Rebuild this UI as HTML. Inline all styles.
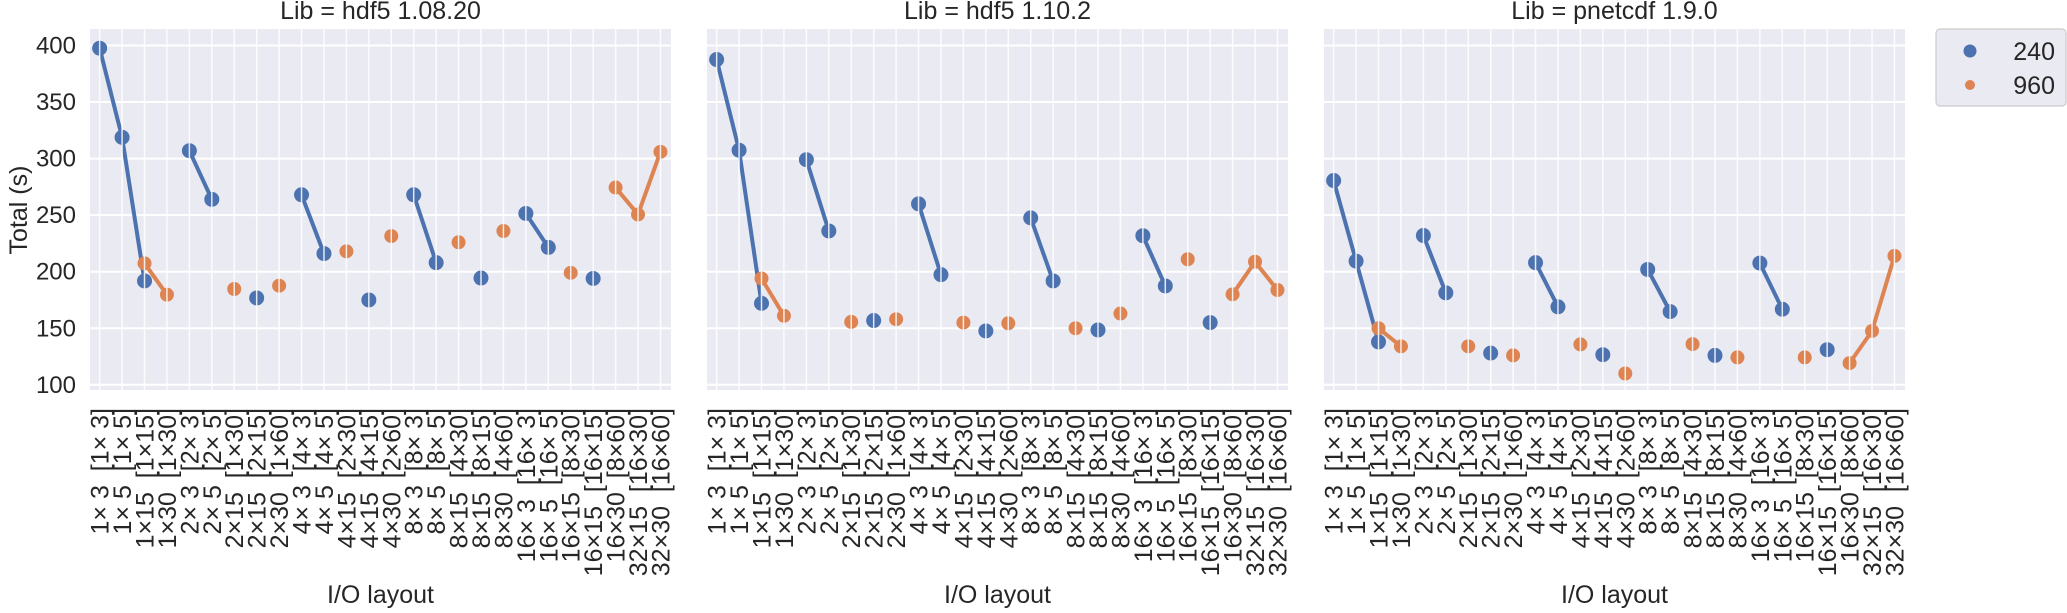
<!DOCTYPE html>
<html><head><meta charset="utf-8">
<style>
html,body{margin:0;padding:0;background:#fff;}
svg{display:block;font-family:"Liberation Sans",Arial,sans-serif;}
</style></head>
<body>
<svg id="chart" width="2067" height="613" viewBox="0 0 2067 613" xmlns="http://www.w3.org/2000/svg"></svg>
<script>
const categories = ["1× 3  [1× 3]","1× 5  [1× 5]","1×15  [1×15]","1×30  [1×30]","2× 3  [2× 3]","2× 5  [2× 5]","2×15  [1×30]","2×15  [2×15]","2×30  [1×60]","4× 3  [4× 3]","4× 5  [4× 5]","4×15  [2×30]","4×15  [4×15]","4×30  [2×60]","8× 3  [8× 3]","8× 5  [8× 5]","8×15  [4×30]","8×15  [8×15]","8×30  [4×60]","16× 3  [16× 3]","16× 5  [16× 5]","16×15  [8×30]","16×15  [16×15]","16×30  [8×60]","32×15  [16×30]","32×30  [16×60]"];
const panelTitles = ["Lib = hdf5 1.08.20","Lib = hdf5 1.10.2","Lib = pnetcdf 1.9.0"];
const yTicks = [100,150,200,250,300,350,400];
const seriesNames = ["240","960"];
const n = null;
const p1_240 = [397.6,318.8,191.8,n,307,264,n,176.8,n,268,216,n,175,n,268,208,n,194.4,n,251.5,221.5,n,194,n,n,n];
const p1_960 = [n,n,207.4,179.7,n,n,184.7,n,187.6,n,n,218,n,231.5,n,n,226,n,236,n,n,199,n,274.4,250.6,306];
const p2_240 = [387.6,307.4,172,n,299,236,n,156.8,n,260,197.4,n,147.6,n,247.6,191.8,n,148.5,n,231.8,187.4,n,155,n,n,n];
const p2_960 = [n,n,194,161,n,n,155.6,n,158,n,n,155,n,154.4,n,n,150,n,163,n,n,211,n,180,208.8,183.8];
const p3_240 = [280.6,209.4,137.9,n,232,181.3,n,128,n,208,169,n,126.6,n,202,164.7,n,126,n,207.6,166.8,n,131,n,n,n];
const p3_960 = [n,n,150,134,n,n,134,n,126,n,n,135.7,n,110,n,n,136,n,124.2,n,n,124.2,n,119.2,147.6,214];

const NS="http://www.w3.org/2000/svg";
const svg=document.getElementById('chart');
function mk(tag,attrs,parent){const e=document.createElementNS(NS,tag);for(const k in attrs)e.setAttribute(k,attrs[k]);(parent||svg).appendChild(e);return e;}
const colors=["#4c72b0","#dd8452"];
const panels=[{left:90,s:[p1_240,p1_960]},{left:707,s:[p2_240,p2_960]},{left:1324,s:[p3_240,p3_960]}];
const W=581, TOP=29, BOT=390;
const yMin=95.4, yMax=414.6;
function yS(v){return BOT-(v-yMin)/(yMax-yMin)*(BOT-TOP);}
function xS(left,i){return left+(i+0.43)*(W/25.9);}

panels.forEach((p,pi)=>{
  const g=mk('g',{});
  
  
  const bg=mk('rect',{x:p.left,y:TOP,width:W,height:BOT-TOP,fill:'#eaeaf2'},g);
  
  
  yTicks.forEach(t=>{
    const l=mk('line',{x1:p.left,x2:p.left+W,y1:yS(t),y2:yS(t),stroke:'#fff','stroke-width':2},g);
    
    
    if(pi===0){
      const tx=mk('text',{x:p.left-14,y:yS(t)+8,'text-anchor':'end','font-size':24,fill:'#262626'},g);
      tx.textContent=t;
      
      
    }
  });
  // lines
  p.s.forEach((arr,si)=>{
    for(let i=0;i<arr.length-1;i++){
      if(arr[i]!==null&&arr[i+1]!==null){
        const l=mk('line',{x1:xS(p.left,i),y1:yS(arr[i]),x2:xS(p.left,i+1),y2:yS(arr[i+1]),stroke:colors[si],'stroke-width':4,'stroke-linecap':'round'},g);
        
        
      }
    }
  });
  p.s.forEach((arr,si)=>{
    arr.forEach((v,i)=>{
      if(v===null)return;
      const c=mk('circle',{cx:xS(p.left,i),cy:yS(v),r:si===0?7.5:7,fill:colors[si]},g);
      
      
    });
  });
  categories.forEach((c,i)=>{
    const x=xS(p.left,i);
    const l=mk('line',{x1:x,x2:x,y1:TOP,y2:BOT,stroke:'#fff','stroke-width':1.5,'stroke-opacity':0.85},g);
    
    
    const t=mk('text',{x:0,y:0,'text-anchor':'end','font-size':25,fill:'#262626',transform:`translate(${x+9},408) rotate(-90)`},g);
    t.setAttribute('xml:space','preserve');
    t.style.whiteSpace='pre';
    t.textContent=c;
    
    
  });
  const ti=mk('text',{x:p.left+W/2,y:19,'text-anchor':'middle','font-size':25,fill:'#262626'},g);
  ti.textContent=panelTitles[pi];
  
  
  const xt=mk('text',{x:p.left+W/2,y:603,'text-anchor':'middle','font-size':25,fill:'#262626'},g);
  xt.textContent='I/O layout';
  
  
});
const yt=mk('text',{x:0,y:0,'text-anchor':'middle','font-size':25,fill:'#262626',transform:'translate(27,210) rotate(-90)'});
yt.textContent='Total (s)';



const lg=mk('g',{});


const lb=mk('rect',{x:1936,y:29,width:130,height:77,rx:4,fill:'#eaeaf2',stroke:'#cccccc','stroke-width':1.2},lg);


seriesNames.forEach((s,si)=>{
  const cy=si===0?51:85;
  const c=mk('circle',{cx:1970,cy:cy,r:si===0?6.5:5,fill:colors[si]},lg);
  
  
  const t=mk('text',{x:2055,y:cy+9,'text-anchor':'end','font-size':25,fill:'#262626'},lg);
  t.textContent=s;
  
  
});
</script>
</body></html>
